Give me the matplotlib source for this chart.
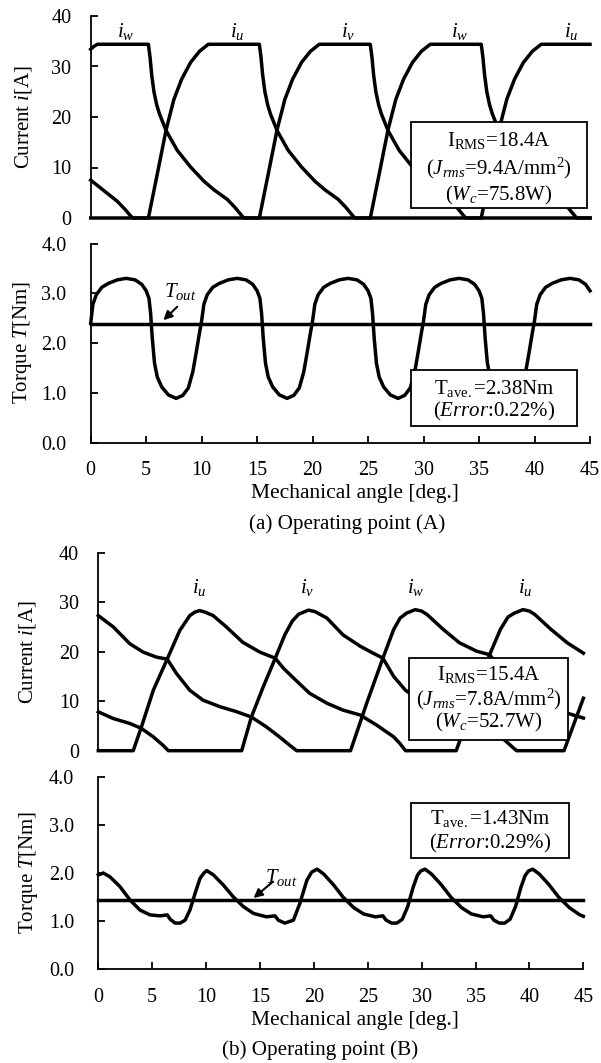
import matplotlib
matplotlib.use('Agg')
import matplotlib.pyplot as plt
from matplotlib.patches import Rectangle

plt.rcParams['font.family'] = ['Liberation Serif', 'DejaVu Serif']
plt.rcParams['mathtext.fontset'] = 'custom'
plt.rcParams['mathtext.rm'] = 'Liberation Serif'
plt.rcParams['mathtext.it'] = 'Liberation Serif:italic'
plt.rcParams['mathtext.bf'] = 'Liberation Serif:bold'

# ---------------- data ----------------
angle_ticks = [0, 5, 10, 15, 20, 25, 30, 35, 40, 45]
current_ticks = [0, 10, 20, 30, 40]
torque_ticks = [0.0, 1.0, 2.0, 3.0, 4.0]

# (a) operating point A : phase currents (deg, A)
iu_a = [(0, 0), (5.2, 0), (6.0, 8.7), (6.8, 17.5), (7.5, 23.5), (8.2, 27.5), (9.0, 30.8),
        (9.8, 33.0), (10.6, 34.4), (15.2, 34.4), (15.35, 31.8), (15.5, 28.3), (15.7, 25.0),
        (15.95, 22.4), (16.2, 20.6), (16.8, 17.3), (17.8, 13.4), (19.0, 10.1), (20.2, 7.3),
        (21.1, 5.6), (22.3, 3.7), (23.0, 2.1), (23.6, 0.5), (23.8, 0), (35.2, 0), (36.0, 8.7),
        (36.8, 17.5), (37.5, 23.5), (38.2, 27.5), (39.0, 30.8), (39.8, 33.0), (40.6, 34.4),
        (45, 34.4)]
iv_a = [(0, 7.5), (1.2, 5.4), (2.4, 3.3), (3.1, 1.7), (3.6, 0.4), (3.8, 0), (15.2, 0),
        (16.0, 8.7), (16.8, 17.5), (17.5, 23.5), (18.2, 27.5), (19.0, 30.8), (19.8, 33.0),
        (20.6, 34.4), (25.2, 34.4), (25.35, 31.8), (25.5, 28.3), (25.7, 25.0), (25.95, 22.4),
        (26.2, 20.6), (26.8, 17.3), (27.8, 13.4), (29.0, 10.1), (30.2, 7.3), (31.1, 5.6),
        (32.3, 3.7), (33.0, 2.1), (33.6, 0.5), (33.8, 0), (45, 0)]
iw_a = [(0, 33.4), (0.3, 34.0), (0.6, 34.4), (5.2, 34.4), (5.35, 31.8), (5.5, 28.3),
        (5.7, 25.0), (5.95, 22.4), (6.2, 20.6), (6.8, 17.3), (7.8, 13.4), (9.0, 10.1),
        (10.2, 7.3), (11.1, 5.6), (12.3, 3.7), (13.0, 2.1), (13.6, 0.5), (13.8, 0), (25.2, 0),
        (26.0, 8.7), (26.8, 17.5), (27.5, 23.5), (28.2, 27.5), (29.0, 30.8), (29.8, 33.0),
        (30.6, 34.4), (35.2, 34.4), (35.35, 31.8), (35.5, 28.3), (35.7, 25.0), (35.95, 22.4),
        (36.2, 20.6), (36.8, 17.3), (37.8, 13.4), (39.0, 10.1), (40.2, 7.3), (41.1, 5.6),
        (42.3, 3.7), (43.0, 2.1), (43.6, 0.5), (43.8, 0), (45, 0)]

# (a) torque (deg, Nm)
torque_a = [(0, 2.4), (0.2, 2.78), (0.5, 2.97), (1.0, 3.12), (1.6, 3.2), (2.4, 3.27), (3.2, 3.3),
            (4.0, 3.27), (4.6, 3.18), (5.0, 3.05), (5.25, 2.9), (5.4, 2.6), (5.55, 2.1),
            (5.75, 1.6), (6.0, 1.32), (6.4, 1.12), (7.0, 0.96), (7.7, 0.89), (8.3, 0.95),
            (8.8, 1.1), (9.2, 1.42), (9.5, 1.8), (9.8, 2.2),
            (10.0, 2.45), (10.2, 2.78), (10.5, 2.97), (11.0, 3.12), (11.6, 3.2), (12.4, 3.27),
            (13.2, 3.3), (14.0, 3.27), (14.6, 3.18), (15.0, 3.05), (15.25, 2.9), (15.4, 2.6),
            (15.55, 2.1), (15.75, 1.6), (16.0, 1.32), (16.4, 1.12), (17.0, 0.96), (17.7, 0.89),
            (18.3, 0.95), (18.8, 1.1), (19.2, 1.42), (19.5, 1.8), (19.8, 2.2),
            (20.0, 2.45), (20.2, 2.78), (20.5, 2.97), (21.0, 3.12), (21.6, 3.2), (22.4, 3.27),
            (23.2, 3.3), (24.0, 3.27), (24.6, 3.18), (25.0, 3.05), (25.25, 2.9), (25.4, 2.6),
            (25.55, 2.1), (25.75, 1.6), (26.0, 1.32), (26.4, 1.12), (27.0, 0.96), (27.7, 0.89),
            (28.3, 0.95), (28.8, 1.1), (29.2, 1.42), (29.5, 1.8), (29.8, 2.2),
            (30.0, 2.45), (30.2, 2.78), (30.5, 2.97), (31.0, 3.12), (31.6, 3.2), (32.4, 3.27),
            (33.2, 3.3), (34.0, 3.27), (34.6, 3.18), (35.0, 3.05), (35.25, 2.9), (35.4, 2.6),
            (35.55, 2.1), (35.75, 1.6), (36.0, 1.32), (36.4, 1.12), (37.0, 0.96), (37.7, 0.89),
            (38.3, 0.95), (38.8, 1.1), (39.2, 1.42), (39.5, 1.8), (39.8, 2.2),
            (40.0, 2.45), (40.2, 2.78), (40.5, 2.97), (41.0, 3.12), (41.6, 3.2), (42.4, 3.27),
            (43.2, 3.3), (44.0, 3.27), (44.6, 3.18), (45.0, 3.05)]
tout_a = 2.38

# (b) operating point B : phase currents (deg, A)
iu_b = [(0, 0), (3.24, 0), (4.0, 4.8), (5.1, 12.2), (6.39, 18.5), (7.56, 24.3), (8.49, 27.3),
        (8.95, 28.0), (9.41, 28.3), (9.9, 28.0), (10.65, 27.3), (11.88, 25.0), (13.4, 21.9),
        (15.0, 19.9), (16.4, 18.7), (17.2, 16.6), (18.1, 14.7), (19.6, 11.6), (21.2, 9.6),
        (22.7, 8.2), (24.3, 7.2), (25.8, 5.2), (27.4, 2.8), (28.0, 1.4), (28.5, 0), (33.2, 0),
        (34.0, 4.8), (35.1, 12.2), (36.3, 19.4), (37.3, 24.5), (38.0, 27.0), (38.6, 27.8),
        (39.4, 28.5), (40.0, 28.2), (40.5, 27.5), (42.0, 24.5), (43.5, 21.8), (45, 19.7)]
iv_b = [(0, 7.85), (1.39, 6.5), (2.93, 5.5), (4.0, 4.5), (5.1, 2.8), (6.0, 1.1), (6.5, 0),
        (13.3, 0), (14.2, 6.8), (15.3, 12.9), (16.4, 18.6), (17.3, 23.4), (18.0, 26.2),
        (18.6, 27.6), (19.5, 28.4), (20.1, 28.1), (21.2, 26.8), (22.7, 23.4), (24.3, 21.1),
        (25.5, 19.7), (26.4, 18.7), (27.4, 15.0), (28.5, 12.2), (30.0, 10.0), (31.5, 8.8),
        (33.0, 7.8), (34.5, 6.8), (36.0, 4.9), (37.3, 2.9), (38.8, 0), (43.2, 0), (45, 10.6)]
iw_b = [(0, 27.3), (1.39, 25.0), (2.93, 21.6), (4.17, 19.9), (5.4, 18.9), (6.39, 18.5),
        (7.25, 15.6), (8.49, 12.2), (9.72, 10.2), (11.27, 8.9), (12.8, 7.9), (14.2, 6.8),
        (15.6, 4.8), (16.8, 2.8), (17.7, 1.2), (18.4, 0), (23.4, 0), (24.9, 9.6), (26.4, 18.7),
        (27.4, 24.5), (28.0, 26.8), (28.6, 27.8), (29.4, 28.5), (30.0, 28.2), (30.5, 27.5),
        (32.0, 24.5), (33.5, 21.8), (35.1, 20.1), (36.3, 19.4), (37.3, 16.5), (38.5, 12.8),
        (40.0, 10.3), (41.5, 8.9), (43.0, 7.9), (45, 6.6)]

# (b) torque (deg, Nm)
torque_b = [(0, 1.96), (0.46, 2.0), (1.08, 1.92), (2.0, 1.72), (2.94, 1.44), (3.87, 1.23),
            (4.8, 1.13), (5.73, 1.11), (6.4, 1.13), (6.66, 1.04), (7.12, 0.96), (7.59, 0.96),
            (8.05, 1.02), (8.5, 1.23), (8.98, 1.58), (9.44, 1.89), (9.8, 2.0), (10.06, 2.05),
            (10.68, 1.96), (11.6, 1.75), (12.5, 1.51), (13.47, 1.3), (14.4, 1.16), (15.6, 1.09),
            (16.4, 1.11), (16.7, 1.02), (17.3, 0.96), (18.1, 1.02), (18.7, 1.37), (19.35, 1.85),
            (19.8, 2.02), (20.3, 2.08), (20.9, 1.98), (21.8, 1.76), (22.7, 1.5), (23.7, 1.28),
            (24.6, 1.15), (25.7, 1.09), (26.4, 1.11), (26.7, 1.02), (27.2, 0.96), (27.7, 0.96),
            (28.2, 1.04), (28.7, 1.3), (29.2, 1.7), (29.6, 1.95), (29.9, 2.04), (30.3, 2.08),
            (30.9, 1.98), (31.8, 1.76), (32.7, 1.5), (33.7, 1.28), (34.6, 1.15), (35.7, 1.09),
            (36.4, 1.11), (36.7, 1.02), (37.2, 0.96), (37.7, 0.96), (38.2, 1.04), (38.7, 1.3),
            (39.2, 1.7), (39.6, 1.95), (39.9, 2.04), (40.3, 2.08), (40.9, 1.98), (41.8, 1.76),
            (42.7, 1.5), (43.7, 1.28), (44.6, 1.14), (45, 1.1)]
tout_b = 1.43

# ---------------- figure ----------------
W, H = 601, 1063
fig = plt.figure(figsize=(W / 100, H / 100), dpi=100)


def px_axes(left, right, top, bottom):
    return fig.add_axes([left / W, 1 - bottom / H, (right - left) / W, (bottom - top) / H])


ax1 = px_axes(90.7, 590, 16, 218)
ax2 = px_axes(90.7, 590, 243.5, 442.7)
ax3 = px_axes(98.3, 583.4, 552.7, 750.7)
ax4 = px_axes(98.3, 583.4, 776.7, 969.3)

LW = 2.5
FS_TICK = 14.5
FS = 15


def style(ax, kind, ypad):
    ax.set_xlim(0, 45)
    for s in ['top', 'right']:
        ax.spines[s].set_visible(False)
    ax.spines['left'].set_linewidth(1.3)
    ax.spines['bottom'].set_linewidth(1.3)
    ax.set_facecolor('none')
    if kind == 'current':
        ax.set_ylim(0, 40)
        ax.spines['bottom'].set_visible(False)
        ax.set_xticks([])
        ax.set_yticks(current_ticks)
        ax.set_yticklabels([str(t) for t in current_ticks])
    else:
        ax.set_ylim(0, 4)
        ax.set_yticks(torque_ticks)
        ax.set_yticklabels(['%.1f' % t for t in torque_ticks])
        ax.set_xticks(angle_ticks)
        ax.set_xticklabels([str(t) for t in angle_ticks])
        ax.tick_params(axis='x', direction='in', length=5, width=1.3,
                       labelsize=FS_TICK, pad=13.5)
    ax.tick_params(axis='y', direction='in', length=5, width=1.3,
                   labelsize=FS_TICK, pad=ypad)


def draw(ax, pts):
    xs = [p[0] for p in pts]
    ys = [p[1] for p in pts]
    ax.plot(xs, ys, color='black', lw=LW, clip_on=False, zorder=2,
            solid_joinstyle='round')


def box(ax, x0, x1, y0, y1, lines):
    ax.add_patch(Rectangle((x0, y0), x1 - x0, y1 - y0, facecolor='white',
                           edgecolor='black', lw=1.3, zorder=5, clip_on=False))
    xc = (x0 + x1) / 2
    for yv, s in lines:
        ax.text(xc, yv, s, ha='center', va='center', fontsize=FS, zorder=6)


style(ax1, 'current', 14)
style(ax2, 'torque', 17.5)
style(ax3, 'current', 14)
style(ax4, 'torque', 17.5)

# ---- (a) current
for pts in (iu_a, iv_a, iw_a):
    draw(ax1, pts)
for xv, s in [(3.2, r'$i_w$'), (13.2, r'$i_u$'), (23.2, r'$i_v$'), (33.3, r'$i_w$'), (43.3, r'$i_u$')]:
    ax1.text(xv, 36.9, s, ha='center', va='center', fontsize=FS)
box(ax1, 28.9, 44.7, 1.9, 19.1,
    [(15.4, r'$\mathrm{I}_{\mathrm{RMS}}$=18.4A'),
     (9.8, r'($J_{rms}$=9.4A/$\mathrm{mm}^{2}$)'),
     (4.55, r'($W_{c}$=75.8W)')])

# ---- (a) torque
draw(ax2, torque_a)
ax2.plot([0, 45], [tout_a, tout_a], color='black', lw=LW, clip_on=False, zorder=2)
ax2.annotate('', xy=(6.55, 2.46), xytext=(7.8, 2.73),
             arrowprops=dict(arrowstyle='-|>', color='black', lw=1.5,
                             mutation_scale=13, shrinkA=0, shrinkB=0), zorder=4)
ax2.text(8.1, 3.03, r'$T_{out}$', ha='center', va='center', fontsize=FS)
box(ax2, 28.9, 43.8, 0.33, 1.46,
    [(1.09, r'$\mathrm{T}_{\mathrm{ave.}}$=2.38Nm'),
     (0.62, r'($Error$:0.22%)')])

# ---- (b) current
for pts in (iu_b, iv_b, iw_b):
    draw(ax3, pts)
for xv, s in [(9.4, r'$i_u$'), (19.4, r'$i_v$'), (29.4, r'$i_w$'), (39.6, r'$i_u$')]:
    ax3.text(xv, 32.9, s, ha='center', va='center', fontsize=FS)
box(ax3, 28.8, 43.6, 2.2, 18.7,
    [(15.4, r'$\mathrm{I}_{\mathrm{RMS}}$=15.4A'),
     (10.3, r'($J_{rms}$=7.8A/$\mathrm{mm}^{2}$)'),
     (5.6, r'($W_{c}$=52.7W)')])

# ---- (b) torque
draw(ax4, torque_b)
ax4.plot([0, 45], [tout_b, tout_b], color='black', lw=LW, clip_on=False, zorder=2)
ax4.annotate('', xy=(14.4, 1.48), xytext=(16.2, 1.82),
             arrowprops=dict(arrowstyle='-|>', color='black', lw=1.5,
                             mutation_scale=13, shrinkA=0, shrinkB=0), zorder=4)
ax4.text(17.0, 1.91, r'$T_{out}$', ha='center', va='center', fontsize=FS)
box(ax4, 29.0, 43.7, 2.31, 3.46,
    [(3.14, r'$\mathrm{T}_{\mathrm{ave.}}$=1.43Nm'),
     (2.62, r'($Error$:0.29%)')])


# ---- axis labels and captions (pixel positions)
def ftext(x, y, s, va='center', fs=FS, **kw):
    fig.text(x / W, 1 - y / H, s, ha='center', va=va, fontsize=fs, **kw)


ftext(23.6, (16 + 218) / 2, r'Current $i$[A]', rotation=90)
ftext(23.0, (243.5 + 442.7) / 2, r'Torque $T$[Nm]', rotation=90)
ftext(28.0, (552.7 + 750.7) / 2, r'Current $i$[A]', rotation=90)
ftext(28.0, (776.7 + 969.3) / 2, r'Torque $T$[Nm]', rotation=90)

ftext(354.7, 498.3, 'Mechanical angle [deg.]', va='baseline', fs=15.5)
ftext(354.7, 1024.9, 'Mechanical angle [deg.]', va='baseline', fs=15.5)
ftext(346.7, 529, '(a) Operating point (A)', va='baseline', fs=15.2)
ftext(320, 1055, '(b) Operating point (B)', va='baseline', fs=15.2)

fig.savefig('out.png', dpi=100)
